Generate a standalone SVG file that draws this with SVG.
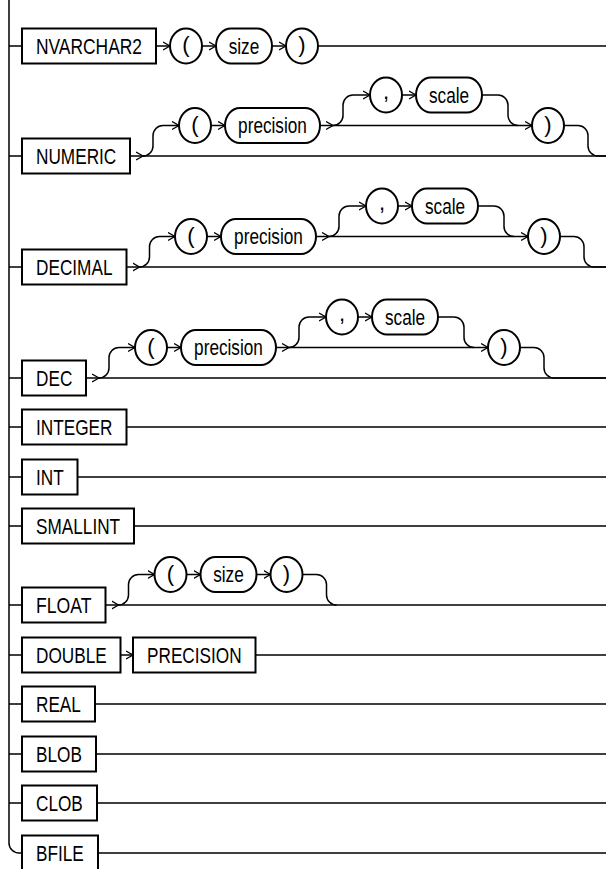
<svg xmlns="http://www.w3.org/2000/svg" width="606" height="869" viewBox="0 0 606 869">
<style>
.b{fill:#fff;stroke:#000;stroke-width:2}
.c{fill:none;stroke:#000;stroke-width:1.5}
.a{marker-end:url(#ah)}
.t{font-family:"Liberation Sans",Arial,sans-serif;font-size:22px;fill:#000}
.m{text-anchor:middle}
</style>
<defs>
<marker id="ah" markerWidth="9" markerHeight="10" refX="7" refY="5" orient="auto" markerUnits="userSpaceOnUse">
<path d="M0,1 L7,5 L0,9" fill="none" stroke="#000" stroke-width="1.3"/>
</marker>
</defs>
<rect width="606" height="869" fill="#fff"/>
<g id="connectors">
<path class="c" d="M9 0 V843 a10 10 0 0 0 10 10 H22"/>
<path class="c" d="M9 46 H22 M9 156 H22 M9 267 H22 M9 378 H22 M9 427 H22 M9 477 H22 M9 526 H22 M9 605 H22 M9 655 H22 M9 704 H22 M9 754 H22 M9 803 H22"/>
<!-- row 1 -->
<path class="c a" d="M156 46 H170"/>
<path class="c a" d="M202 46 H216"/>
<path class="c a" d="M272 46 H286"/>
<path class="c" d="M318 46 H606"/>
<!-- row 2 -->
<path class="c a" d="M130 156 H143"/>
<path class="c" d="M143 156 H606"/>
<path class="c a" d="M143 156 a10 10 0 0 0 10 -10 V135.5 a10 10 0 0 1 10 -10 H179"/>
<path class="c a" d="M211 125.5 H225"/>
<path class="c a" d="M320 125.5 H333"/>
<path class="c a" d="M333 125.5 H532"/>
<path class="c a" d="M333 125.5 a10 10 0 0 0 10 -10 V105 a10 10 0 0 1 10 -10 H370"/>
<path class="c a" d="M402 95 H416"/>
<path class="c" d="M482 95 H498 a10 10 0 0 1 10 10 V115.5 a10 10 0 0 0 10 10"/>
<path class="c" d="M564 125.5 H578 a10 10 0 0 1 10 10 V146 a10 10 0 0 0 10 10 H606"/>
<!-- row 3 -->
<path class="c a" d="M126.5 267 H139.5"/>
<path class="c" d="M139.5 267 H606"/>
<path class="c a" d="M139.5 267 a10 10 0 0 0 10 -10 V246.5 a10 10 0 0 1 10 -10 H175"/>
<path class="c a" d="M207 236.5 H221"/>
<path class="c a" d="M316 236.5 H329"/>
<path class="c a" d="M329 236.5 H528"/>
<path class="c a" d="M329 236.5 a10 10 0 0 0 10 -10 V216 a10 10 0 0 1 10 -10 H366"/>
<path class="c a" d="M398 206 H412"/>
<path class="c" d="M478 206 H494 a10 10 0 0 1 10 10 V226.5 a10 10 0 0 0 10 10"/>
<path class="c" d="M560 236.5 H574 a10 10 0 0 1 10 10 V257 a10 10 0 0 0 10 10 H606"/>
<!-- row 4 -->
<path class="c a" d="M86 378 H99"/>
<path class="c" d="M99 378 H606"/>
<path class="c a" d="M99 378 a10 10 0 0 0 10 -10 V357.5 a10 10 0 0 1 10 -10 H135"/>
<path class="c a" d="M167 347.5 H181"/>
<path class="c a" d="M276 347.5 H289"/>
<path class="c a" d="M289 347.5 H488"/>
<path class="c a" d="M289 347.5 a10 10 0 0 0 10 -10 V327 a10 10 0 0 1 10 -10 H326"/>
<path class="c a" d="M358 317 H372"/>
<path class="c" d="M438 317 H454 a10 10 0 0 1 10 10 V337.5 a10 10 0 0 0 10 10"/>
<path class="c" d="M520 347.5 H534 a10 10 0 0 1 10 10 V368 a10 10 0 0 0 10 10 H606"/>
<!-- simple rows -->
<path class="c" d="M126.5 427 H606 M77.5 477 H606 M134 526 H606"/>
<!-- row 8 -->
<path class="c a" d="M105.5 605 H118.5"/>
<path class="c" d="M118.5 605 H606"/>
<path class="c a" d="M118.5 605 a10 10 0 0 0 10 -10 V584.5 a10 10 0 0 1 10 -10 H154.5"/>
<path class="c a" d="M186.5 574.5 H200.5"/>
<path class="c a" d="M256.5 574.5 H270.5"/>
<path class="c" d="M302.5 574.5 H316.5 a10 10 0 0 1 10 10 V595 a10 10 0 0 0 10 10"/>
<!-- row 9 -->
<path class="c a" d="M120.5 655 H133"/>
<path class="c" d="M255.5 655 H606"/>
<path class="c" d="M95 704 H606 M96 754 H606 M97 803 H606 M98 853 H606"/>
</g>
<g id="n-nvarchar2"><rect class="b" x="22" y="28.5" width="134" height="35"/><text class="t" x="36" y="54" textLength="106" lengthAdjust="spacingAndGlyphs">NVARCHAR2</text></g>
<g id="n-r1-lp"><ellipse class="b" cx="186" cy="46" rx="16" ry="17.5"/><text class="t m" x="186" y="52">(</text></g>
<g id="n-r1-size"><rect class="b" x="216" y="28.5" width="56" height="35" rx="15" ry="17.5"/><text class="t" x="228.7" y="53.5" textLength="30.6" lengthAdjust="spacingAndGlyphs">size</text></g>
<g id="n-r1-rp"><ellipse class="b" cx="302" cy="46" rx="16" ry="17.5"/><text class="t m" x="302" y="52">)</text></g>

<g id="n-numeric"><rect class="b" x="22" y="138.5" width="108" height="35"/><text class="t" x="36" y="164" textLength="80.3" lengthAdjust="spacingAndGlyphs">NUMERIC</text></g>
<g id="n-r2-lp"><ellipse class="b" cx="195" cy="125.5" rx="16" ry="17.5"/><text class="t m" x="195" y="131.5">(</text></g>
<g id="n-r2-precision"><rect class="b" x="225" y="108" width="95" height="35" rx="15" ry="17.5"/><text class="t" x="238.1" y="133" textLength="68.8" lengthAdjust="spacingAndGlyphs">precision</text></g>
<g id="n-r2-comma"><ellipse class="b" cx="386" cy="95" rx="16" ry="17.5"/><text class="t m" x="386" y="98.5">,</text></g>
<g id="n-r2-scale"><rect class="b" x="416" y="77.5" width="66" height="35" rx="15" ry="17.5"/><text class="t" x="429" y="102.5" textLength="40.1" lengthAdjust="spacingAndGlyphs">scale</text></g>
<g id="n-r2-rp"><ellipse class="b" cx="548" cy="125.5" rx="16" ry="17.5"/><text class="t m" x="548" y="131.5">)</text></g>

<g id="n-decimal"><rect class="b" x="22" y="249.5" width="104.5" height="35"/><text class="t" x="36" y="275" textLength="76.5" lengthAdjust="spacingAndGlyphs">DECIMAL</text></g>
<g id="n-r3-lp"><ellipse class="b" cx="191" cy="236.5" rx="16" ry="17.5"/><text class="t m" x="191" y="242.5">(</text></g>
<g id="n-r3-precision"><rect class="b" x="221" y="219" width="95" height="35" rx="15" ry="17.5"/><text class="t" x="234.1" y="244" textLength="68.8" lengthAdjust="spacingAndGlyphs">precision</text></g>
<g id="n-r3-comma"><ellipse class="b" cx="382" cy="206" rx="16" ry="17.5"/><text class="t m" x="382" y="209.5">,</text></g>
<g id="n-r3-scale"><rect class="b" x="412" y="188.5" width="66" height="35" rx="15" ry="17.5"/><text class="t" x="425" y="213.5" textLength="40.1" lengthAdjust="spacingAndGlyphs">scale</text></g>
<g id="n-r3-rp"><ellipse class="b" cx="544" cy="236.5" rx="16" ry="17.5"/><text class="t m" x="544" y="242.5">)</text></g>

<g id="n-dec"><rect class="b" x="22" y="360.5" width="64" height="35"/><text class="t" x="36" y="386" textLength="36.3" lengthAdjust="spacingAndGlyphs">DEC</text></g>
<g id="n-r4-lp"><ellipse class="b" cx="151" cy="347.5" rx="16" ry="17.5"/><text class="t m" x="151" y="353.5">(</text></g>
<g id="n-r4-precision"><rect class="b" x="181" y="330" width="95" height="35" rx="15" ry="17.5"/><text class="t" x="194.1" y="355" textLength="68.8" lengthAdjust="spacingAndGlyphs">precision</text></g>
<g id="n-r4-comma"><ellipse class="b" cx="342" cy="317" rx="16" ry="17.5"/><text class="t m" x="342" y="320.5">,</text></g>
<g id="n-r4-scale"><rect class="b" x="372" y="299.5" width="66" height="35" rx="15" ry="17.5"/><text class="t" x="385" y="324.5" textLength="40.1" lengthAdjust="spacingAndGlyphs">scale</text></g>
<g id="n-r4-rp"><ellipse class="b" cx="504" cy="347.5" rx="16" ry="17.5"/><text class="t m" x="504" y="353.5">)</text></g>

<g id="n-integer"><rect class="b" x="22" y="409.5" width="104.5" height="35"/><text class="t" x="36" y="435" textLength="76.5" lengthAdjust="spacingAndGlyphs">INTEGER</text></g>
<g id="n-int"><rect class="b" x="22" y="459.5" width="55.5" height="35"/><text class="t" x="36" y="485" textLength="27.7" lengthAdjust="spacingAndGlyphs">INT</text></g>
<g id="n-smallint"><rect class="b" x="22" y="508.5" width="112" height="35"/><text class="t" x="36" y="534" textLength="84.1" lengthAdjust="spacingAndGlyphs">SMALLINT</text></g>

<g id="n-float"><rect class="b" x="22" y="587.5" width="83.5" height="35"/><text class="t" x="36" y="613" textLength="55.4" lengthAdjust="spacingAndGlyphs">FLOAT</text></g>
<g id="n-r8-lp"><ellipse class="b" cx="170.5" cy="574.5" rx="16" ry="17.5"/><text class="t m" x="170.5" y="580.5">(</text></g>
<g id="n-r8-size"><rect class="b" x="200.5" y="557" width="56" height="35" rx="15" ry="17.5"/><text class="t" x="213.2" y="582" textLength="30.6" lengthAdjust="spacingAndGlyphs">size</text></g>
<g id="n-r8-rp"><ellipse class="b" cx="286.5" cy="574.5" rx="16" ry="17.5"/><text class="t m" x="286.5" y="580.5">)</text></g>

<g id="n-double"><rect class="b" x="22" y="637.5" width="98.5" height="35"/><text class="t" x="36" y="663" textLength="70.7" lengthAdjust="spacingAndGlyphs">DOUBLE</text></g>
<g id="n-precision-kw"><rect class="b" x="133" y="637.5" width="122.5" height="35"/><text class="t" x="147" y="663" textLength="94.6" lengthAdjust="spacingAndGlyphs">PRECISION</text></g>
<g id="n-real"><rect class="b" x="22" y="686.5" width="73" height="35"/><text class="t" x="36" y="712" textLength="44.9" lengthAdjust="spacingAndGlyphs">REAL</text></g>
<g id="n-blob"><rect class="b" x="22" y="736.5" width="74" height="35"/><text class="t" x="36" y="762" textLength="45.9" lengthAdjust="spacingAndGlyphs">BLOB</text></g>
<g id="n-clob"><rect class="b" x="22" y="785.5" width="75" height="35"/><text class="t" x="36" y="811" textLength="46.8" lengthAdjust="spacingAndGlyphs">CLOB</text></g>
<g id="n-bfile"><rect class="b" x="22" y="835.5" width="76" height="35"/><text class="t" x="36" y="861" textLength="47.8" lengthAdjust="spacingAndGlyphs">BFILE</text></g>
</svg>
